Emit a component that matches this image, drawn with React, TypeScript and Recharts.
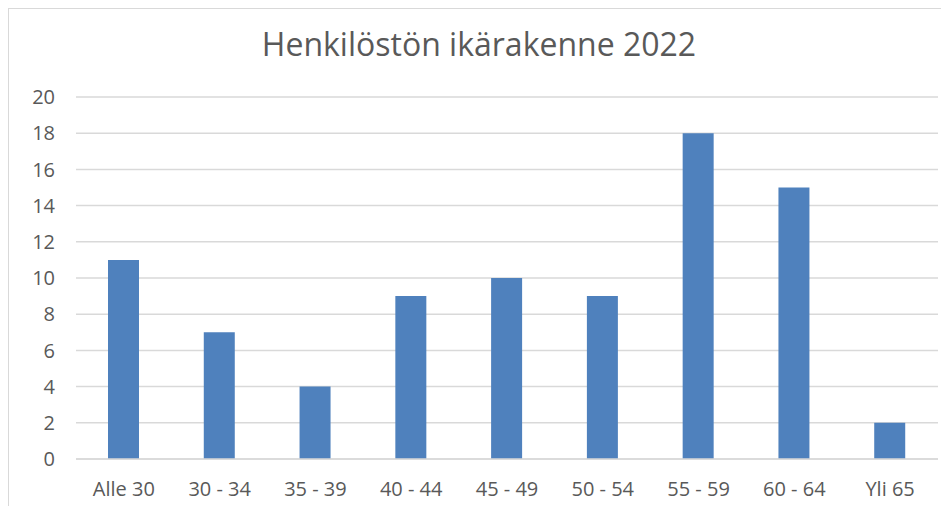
import React from 'react';
import { BarChart, Bar, XAxis, YAxis, CartesianGrid } from 'recharts';

const ageGroups = ['Alle 30', '30 - 34', '35 - 39', '40 - 44', '45 - 49', '50 - 54', '55 - 59', '60 - 64', 'Yli 65'];
const headcount = [11, 7, 4, 9, 10, 9, 18, 15, 2];
const yTicks = [0, 2, 4, 6, 8, 10, 12, 14, 16, 18, 20];

const chartData = ageGroups.map((group, i) => ({ group, count: headcount[i] }));

const FONT = '"Open Sans", sans-serif';
const TEXT = '#595959';
const GRID = '#D9D9D9';

const App: React.FC = () => {
  return (
    <div
      style={{
        position: 'relative',
        width: 940,
        height: 497,
        borderTop: `1px solid ${GRID}`,
        borderLeft: `1px solid ${GRID}`,
        background: '#fff',
        fontFamily: FONT,
      }}
    >
      <div
        style={{
          position: 'absolute',
          left: 0,
          right: 0,
          top: 13,
          textAlign: 'center',
          fontSize: 32,
          color: TEXT,
          fontFamily: FONT,
        }}
      >
        Henkilöstön ikärakenne 2022
      </div>
      <BarChart width={940} height={497} data={chartData} margin={{ top: 88, right: 11, left: 0, bottom: 0 }}>
        <CartesianGrid horizontal vertical={false} stroke={GRID} strokeWidth={1.5} />
        <XAxis
          dataKey="group"
          height={47}
          axisLine={{ stroke: GRID, strokeWidth: 1.5 }}
          tickLine={false}
          tickMargin={17}
          interval={0}
          tick={{ fill: TEXT, fontSize: 20, fontFamily: FONT }}
        />
        <YAxis
          width={67}
          domain={[0, 20]}
          ticks={yTicks}
          axisLine={false}
          tickLine={false}
          tickMargin={15}
          tick={{ fill: TEXT, fontSize: 20, fontFamily: FONT }}
        />
        <Bar dataKey="count" fill="#4F81BD" barSize={31} isAnimationActive={false} />
      </BarChart>
    </div>
  );
};

export default App;
